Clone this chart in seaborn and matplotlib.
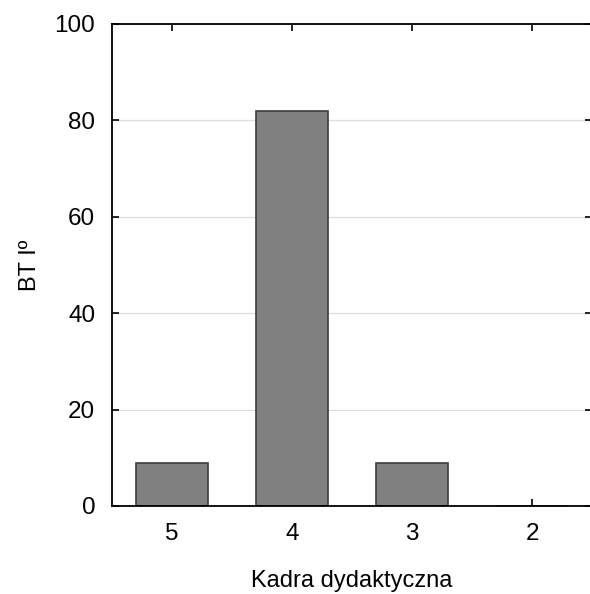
import pandas as pd
import matplotlib.pyplot as plt
import seaborn as sns

# data
categories = ['5', '4', '3', '2']
values = [9, 82, 9, 0]

df = pd.DataFrame({'Kadra': categories, 'BT': values})

sns.set_style('white')
plt.rcParams['font.family'] = ['Liberation Sans', 'DejaVu Sans']
plt.rcParams['font.size'] = 17

fig = plt.figure(figsize=(5.9, 5.94), dpi=100)
ax = fig.add_axes([112 / 590, 88 / 594, 480 / 590, 482 / 594])

sns.barplot(data=df, x='Kadra', y='BT', order=categories, color='#808080',
            saturation=1, width=0.6, edgecolor='#3c3c3c', linewidth=1.2, ax=ax)

ax.set_xlim(-0.5, 3.5)
ax.set_ylim(0, 100)
ax.set_yticks([0, 20, 40, 60, 80, 100])
ax.yaxis.grid(True, color='#dddddd', linewidth=0.9)
ax.set_axisbelow(True)

for key, spine in ax.spines.items():
    spine.set_color('black')
    spine.set_linewidth(1.3)
ax.spines['right'].set_visible(False)

ax.tick_params(direction='in', length=5, width=1.2, top=True, right=True,
               bottom=True, left=True, labelsize=17.5, pad=12, colors='black')

ax.set_xlabel('Kadra dydaktyczna', fontsize=17, labelpad=18, color='black')
ax.set_ylabel('BT Iº', fontsize=17, labelpad=10, color='black')

fig.savefig('out.png', dpi=100)
